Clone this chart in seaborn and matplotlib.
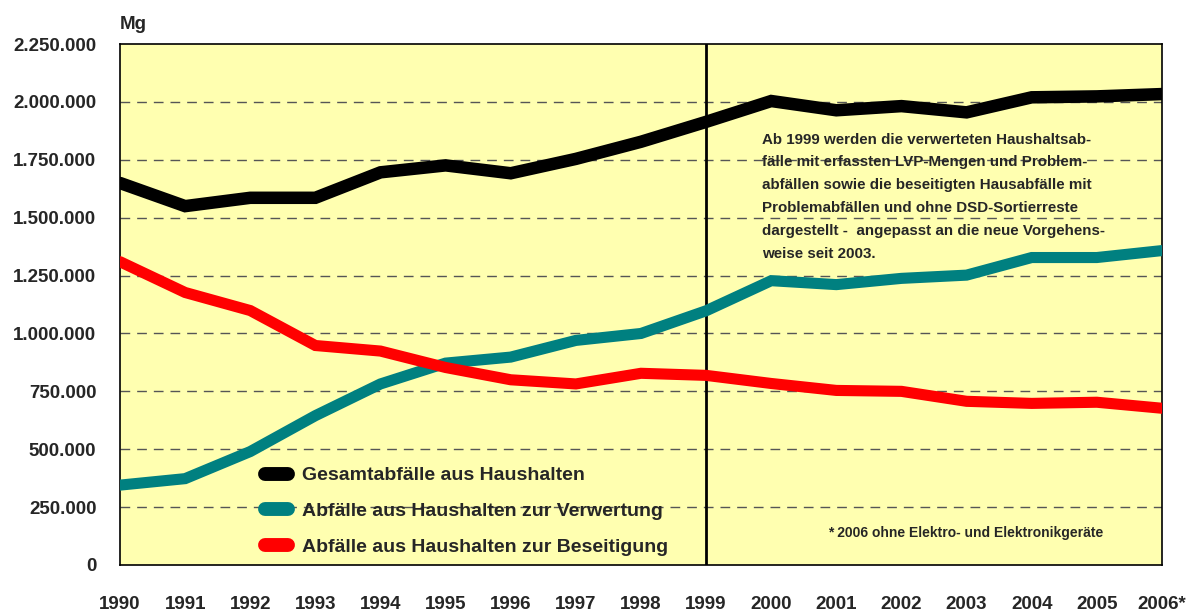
import pandas as pd
import matplotlib.pyplot as plt
import seaborn as sns
from matplotlib.lines import Line2D

years = list(range(1990, 2007))
year_labels = [str(y) for y in years[:-1]] + ["2006*"]

gesamt = [1650000, 1550000, 1586000, 1586000, 1696000, 1726000, 1692000, 1754000, 1828000,
          1914000, 2004000, 1964000, 1982000, 1955000, 2020000, 2024000, 2034000]
verwertung = [345000, 373000, 490000, 645000, 782000, 872000, 898000, 970000, 1000000,
              1098000, 1228000, 1211000, 1238000, 1252000, 1328000, 1328000, 1358000]
beseitigung = [1310000, 1177000, 1099000, 948000, 924000, 853000, 800000, 782000, 828000,
               819000, 784000, 754000, 750000, 707000, 698000, 703000, 677000]

series_names = ["Gesamtabfälle aus Haushalten",
                "Abfälle aus Haushalten zur Verwertung",
                "Abfälle aus Haushalten zur Beseitigung"]
colors = ["#000000", "#008080", "#ff0000"]
widths = [9.0, 8.0, 8.0]

y_ticks = [0, 250000, 500000, 750000, 1000000, 1250000, 1500000, 1750000, 2000000, 2250000]
y_labels = ["0", "250.000", "500.000", "750.000", "1.000.000", "1.250.000",
            "1.500.000", "1.750.000", "2.000.000", "2.250.000"]

note = ("Ab 1999 werden die verwerteten Haushaltsab-\n"
        "fälle mit erfassten LVP-Mengen und Problem-\n"
        "abfällen sowie die beseitigten Hausabfälle mit\n"
        "Problemabfällen und ohne DSD-Sortierreste\n"
        "dargestellt -  angepasst an die neue Vorgehens-\n"
        "weise seit 2003.")
footnote = "* 2006 ohne Elektro- und Elektronikgeräte"

df = pd.DataFrame({"Jahr": years * 3,
                   "Menge": gesamt + verwertung + beseitigung,
                   "Serie": [s for s in series_names for _ in years]})

sns.set_style("white")
plt.rcParams["font.family"] = ["Liberation Sans", "DejaVu Sans"]
plt.rcParams["font.weight"] = "bold"

fig = plt.figure(figsize=(11.87, 6.12), dpi=100)
ax = fig.add_axes([0.1011, 0.0768, 0.8778, 0.8512])
ax.set_facecolor("#ffffb0")

# Rasterlinien
for yv in y_ticks[1:-1]:
    ax.axhline(yv, color="#555555", lw=1.0, ls=(0, (7, 5)), zorder=1)
ax.axvline(1999, color="black", lw=2, zorder=2)

for name, c, w in zip(series_names, colors, widths):
    sns.lineplot(data=df[df["Serie"] == name], x="Jahr", y="Menge", color=c,
                 linewidth=w, ax=ax, legend=False, zorder=3,
                 solid_capstyle="round", solid_joinstyle="miter")

ax.set_xlim(1990, 2006)
ax.set_ylim(0, 2250000)
ax.set_xticks(years)
ax.set_xticklabels(year_labels, fontsize=13.5, fontweight="bold")
ax.set_yticks(y_ticks)
ax.set_yticklabels(y_labels, fontsize=13.5, fontweight="bold")
ax.tick_params(axis="x", length=11, width=1, pad=11, direction="out")
ax.tick_params(axis="y", length=0, pad=17)
ax.set_xlabel("")
ax.set_ylabel("")
for sp in ax.spines.values():
    sp.set_color("black")
    sp.set_linewidth(1.2)

ax.text(0.0, 1.022, "Mg", transform=ax.transAxes, fontsize=13.5, fontweight="bold",
        ha="left", va="bottom")
ax.text(1999.86, 1868000, note, fontsize=10.9, fontweight="bold", ha="left", va="top",
        linespacing=1.8)
ax.text(2000.87, 138000, footnote, fontsize=10, fontweight="bold", ha="left", va="center")

handles = [Line2D([0], [0], color=c, lw=10, solid_capstyle="round") for c in colors]
ax.legend(handles, series_names, loc="upper left", bbox_to_anchor=(0.122, 0.222),
          frameon=False, handlelength=1.2, handletextpad=0.7,
          labelspacing=0.93, prop={"weight": "bold", "size": 14})

fig.savefig("out.png", dpi=100)
